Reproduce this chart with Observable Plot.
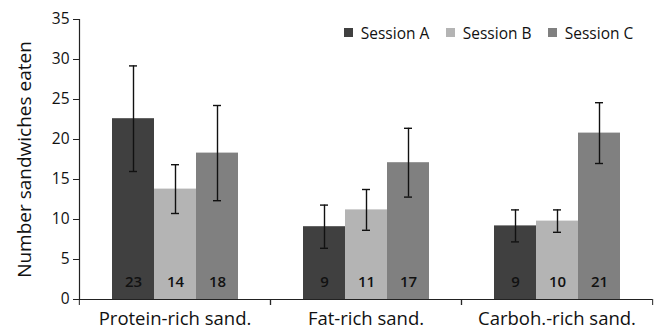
<!DOCTYPE html>
<html>
<head>
<meta charset="utf-8">
<script src="https://cdn.jsdelivr.net/npm/d3@7"></script>
<script src="https://cdn.jsdelivr.net/npm/@observablehq/plot@0.6"></script>
<style>
  html, body { margin: 0; padding: 0; background: #fff; }
  #wrap { position: relative; width: 659px; height: 332px; font-family: "Open Sans", sans-serif; }
  #legend { position: absolute; top: 16px; left: 344px; }
  .lg-swatches { font-family: "Open Sans", sans-serif; font-size: 15.5px; color: #111; }
  .lg-swatch { width: 102px; margin-right: 0 !important; }
</style>
</head>
<body>
<div id="wrap"><div id="chart"></div><div id="legend"></div></div>
<script>
const categories = ["Protein-rich sand.", "Fat-rich sand.", "Carboh.-rich sand."];
const sessions = ["Session A", "Session B", "Session C"];
const colors = ["#404040", "#b4b4b4", "#808080"];
const meanA = [22.6, 9.1, 9.2];
const meanB = [13.8, 11.2, 9.8];
const meanC = [18.3, 17.1, 20.8];
const errA = [6.6, 2.7, 2.0];
const errB = [3.05, 2.55, 1.4];
const errC = [5.95, 4.3, 3.8];
const labelA = [23, 9, 9];
const labelB = [14, 11, 10];
const labelC = [18, 17, 21];
const yTicks = [0, 5, 10, 15, 20, 25, 30, 35];

const means = [meanA, meanB, meanC];
const errs = [errA, errB, errC];
const labels = [labelA, labelB, labelC];
const data = [];
categories.forEach((c, i) => sessions.forEach((s, j) => {
  data.push({cat: c, session: s, mean: means[j][i], lo: means[j][i] - errs[j][i], hi: means[j][i] + errs[j][i], label: labels[j][i]});
}));

const W = 659, mL = 78, mR = 7;
const band = (W - mL - mR) / categories.length;

const chart = Plot.plot({
  width: W, height: 332,
  marginTop: 19, marginBottom: 33, marginLeft: mL, marginRight: mR,
  style: {fontFamily: "Open Sans, sans-serif", color: "#111", background: "#fff"},
  fx: {domain: categories, padding: 0, label: null, axis: null},
  x: {domain: sessions, paddingInner: 0, paddingOuter: 0.756, axis: null},
  y: {domain: [0, 35], ticks: yTicks, axis: null},
  color: {domain: sessions, range: colors},
  marks: [
    Plot.barY(data, {fx: "cat", x: "session", y: "mean", fill: "session"}),
    Plot.ruleX(data, {fx: "cat", x: "session", y1: "lo", y2: "hi", stroke: "#111", strokeWidth: 1.4}),
    Plot.tickY(data, {fx: "cat", x: "session", y: "hi", stroke: "#111", strokeWidth: 1.4, inset: 17}),
    Plot.tickY(data, {fx: "cat", x: "session", y: "lo", stroke: "#111", strokeWidth: 1.4, inset: 17}),
    Plot.text(data, {fx: "cat", x: "session", y: 0, text: "label", dy: -17, fontSize: 15, fill: "#111", fontWeight: 600}),
    Plot.ruleY([0], {stroke: "#222", strokeWidth: 1.2}),
    Plot.frame({anchor: "left", facetAnchor: "left", stroke: "#222", strokeWidth: 1.2}),
    Plot.axisY({ticks: yTicks, tickSize: 6, tickPadding: 4, fontSize: 15.5, label: null, stroke: "#222"}),
    Plot.axisY({ticks: [], label: "Number sandwiches eaten", labelAnchor: "center", labelArrow: "none", labelOffset: 62, fontSize: 19}),
    Plot.axisFx({anchor: "bottom", tickSize: 0, tickPadding: 12, fontSize: 18.5, label: null}),
    Plot.axisFx({anchor: "bottom", tickSize: 6, text: null, dx: -band / 2, label: null, stroke: "#222"}),
    Plot.axisFx({anchor: "bottom", tickSize: 6, text: null, dx: band / 2, label: null, stroke: "#222"})
  ]
});
document.getElementById("chart").appendChild(chart);
const lg = Plot.legend({color: {domain: sessions, range: colors}, swatchSize: 9, className: "lg"});
document.getElementById("legend").appendChild(lg);
</script>
</body>
</html>
